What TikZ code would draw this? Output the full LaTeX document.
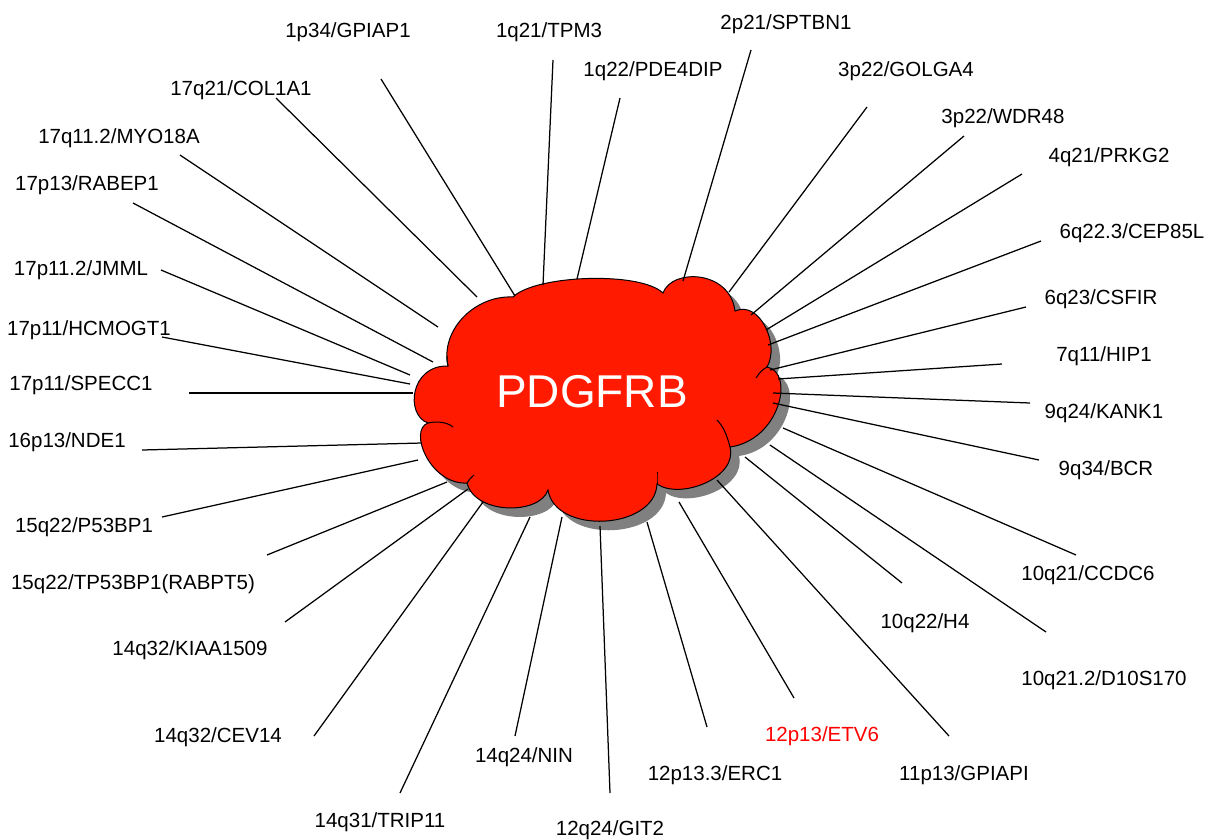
\documentclass[tikz,border=0pt]{standalone}
\usepackage{fontspec}
\setmainfont{Liberation Sans}
\definecolor{cloudred}{RGB}{255,26,0}
\definecolor{shadowgray}{RGB}{128,128,128}
\definecolor{hotred}{RGB}{255,0,0}
% outline of the cloud, one Bezier bump between each pair of cusps
\newcommand\cloudoutline{(448,366)
  .. controls (440,330) and (475,295) .. (513,297)
  .. controls (535,275) and (640,271) .. (663,293)
  .. controls (672,268) and (730,270) .. (735,311)
  .. controls (760,300) and (780,345) .. (767,367)
  .. controls (795,372) and (780,440) .. (730,447)
  .. controls (738,478) and (680,500) .. (657,484)
  .. controls (655,530) and (555,535) .. (548,490)
  .. controls (540,515) and (475,515) .. (467,483)
  .. controls (430,485) and (408,430) .. (428,423)
  .. controls (405,415) and (410,365) .. (448,366) -- cycle}
\begin{document}
\begin{tikzpicture}[x=1pt,y=-1pt,
  lbl/.style={inner sep=0pt, text height=14.7pt, text depth=0pt,
    font=\fontsize{20.5pt}{24pt}\selectfont},
  link/.style={draw=black, line width=1.25pt},
  cusp/.style={draw=black, line width=1pt}]
\useasboundingbox (0,0) rectangle (1210,839);

% cloud with its drop shadow
\begin{scope}[shift={(9,9)}]
  \fill[shadowgray] \cloudoutline;
\end{scope}
\filldraw[fill=cloudred, draw=black, line width=1pt] \cloudoutline;
\draw[cusp] (428,423) .. controls (437,421) and (447,422) .. (453,427);
\draw[cusp] (730,447) .. controls (727,435) and (723,426) .. (717,420);
\draw[cusp] (767,367) .. controls (763,369) and (759,373) .. (756,378);
\draw[cusp] (657,484) .. controls (657,480) and (657,476) .. (657,472);
\draw[cusp] (448,366) .. controls (447,362) and (447,359) .. (447,356);
\draw[cusp] (467,483) .. controls (469,480) and (471,477) .. (474,475);
\node[inner sep=0pt, text height=33pt, text depth=0pt, text=white,
  font=\fontsize{46pt}{50pt}\selectfont] (hub) at (592,391) {PDGFRB};

% labels
\node[lbl] (l1)  at (348,30)  {1p34/GPIAP1};
\node[lbl] (l2)  at (549,30)  {1q21/TPM3};
\node[lbl] (l3)  at (786,22)  {2p21/SPTBN1};
\node[lbl] (l4)  at (653,69)  {1q22/PDE4DIP};
\node[lbl] (l5)  at (906,69)  {3p22/GOLGA4};
\node[lbl] (l6)  at (1003,116) {3p22/WDR48};
\node[lbl] (l7)  at (1109,155) {4q21/PRKG2};
\node[lbl] (l8)  at (1132,231) {6q22.3/CEP85L};
\node[lbl] (l9)  at (1101,297) {6q23/CSFIR};
\node[lbl] (l10) at (1104,354) {7q11/HIP1};
\node[lbl] (l11) at (1104,411) {9q24/KANK1};
\node[lbl] (l12) at (1106,468) {9q34/BCR};
\node[lbl] (l13) at (1088,573) {10q21/CCDC6};
\node[lbl] (l14) at (925,621)  {10q22/H4};
\node[lbl] (l15) at (1104,678) {10q21.2/D10S170};
\node[lbl, text=hotred] (l16) at (822,734) {12p13/ETV6};
\node[lbl] (l17) at (964,773)  {11p13/GPIAPI};
\node[lbl] (l18) at (715,773)  {12p13.3/ERC1};
\node[lbl] (l19) at (610,828)  {12q24/GIT2};
\node[lbl] (l20) at (524,755)  {14q24/NIN};
\node[lbl] (l21) at (380,820)  {14q31/TRIP11};
\node[lbl] (l22) at (218,735)  {14q32/CEV14};
\node[lbl] (l23) at (190,648)  {14q32/KIAA1509};
\node[lbl] (l24) at (133,582)  {15q22/TP53BP1(RABPT5)};
\node[lbl] (l25) at (84,525)   {15q22/P53BP1};
\node[lbl] (l26) at (67,440)   {16p13/NDE1};
\node[lbl] (l27) at (81,383)   {17p11/SPECC1};
\node[lbl] (l28) at (89,328)   {17p11/HCMOGT1};
\node[lbl] (l29) at (81,268)   {17p11.2/JMML};
\node[lbl] (l30) at (87,183)   {17p13/RABEP1};
\node[lbl] (l31) at (119,136)  {17q11.2/MYO18A};
\node[lbl] (l32) at (241,88)   {17q21/COL1A1};

% connector ends: o = outer end by the label, i = inner end at the cloud
\coordinate (o1) at (381,79);   \coordinate (i1) at (515,296);
\coordinate (o2) at (553,60);   \coordinate (i2) at (543,285);
\coordinate (o3) at (751,50);   \coordinate (i3) at (683,281);
\coordinate (o4) at (620,98);   \coordinate (i4) at (577,279);
\coordinate (o5) at (867,107);  \coordinate (i5) at (729,292);
\coordinate (o6) at (964,136);  \coordinate (i6) at (751,315);
\coordinate (o7) at (1022,174); \coordinate (i7) at (766,330);
\coordinate (o8) at (1041,241); \coordinate (i8) at (768,345);
\coordinate (o9) at (1026,307); \coordinate (i9) at (770,370);
\coordinate (o10) at (1002,364); \coordinate (i10) at (778,379);
\coordinate (o11) at (1030,403); \coordinate (i11) at (773,393);
\coordinate (o12) at (1039,460); \coordinate (i12) at (773,403);
\coordinate (o13) at (1076,555); \coordinate (i13) at (783,428);
\coordinate (o14) at (902,583);  \coordinate (i14) at (745,457);
\coordinate (o15) at (1046,632); \coordinate (i15) at (770,445);
\coordinate (o16) at (794,698);  \coordinate (i16) at (679,502);
\coordinate (o17) at (949,736);  \coordinate (i17) at (717,480);
\coordinate (o18) at (707,727);  \coordinate (i18) at (647,522);
\coordinate (o19) at (610,793);  \coordinate (i19) at (600,526);
\coordinate (o20) at (515,736);  \coordinate (i20) at (562,517);
\coordinate (o21) at (400,793);  \coordinate (i21) at (530,517);
\coordinate (o22) at (314,736);  \coordinate (i22) at (483,502);
\coordinate (o23) at (285,622);  \coordinate (i23) at (468,489);
\coordinate (o24) at (267,555);  \coordinate (i24) at (447,482);
\coordinate (o25) at (162,517);  \coordinate (i25) at (418,460);
\coordinate (o26) at (142,450);  \coordinate (i26) at (422,443);
\coordinate (o27) at (189,393);  \coordinate (i27) at (413,393);
\coordinate (o28) at (162,337);  \coordinate (i28) at (410,384);
\coordinate (o29) at (161,270);  \coordinate (i29) at (410,375);
\coordinate (o30) at (133,203);  \coordinate (i30) at (433,362);
\coordinate (o31) at (180,155);  \coordinate (i31) at (438,327);
\coordinate (o32) at (276,98);   \coordinate (i32) at (477,297);

\foreach \k in {1,...,32} {
  \draw[link] (o\k) -- (i\k);
}
\end{tikzpicture}
\end{document}
